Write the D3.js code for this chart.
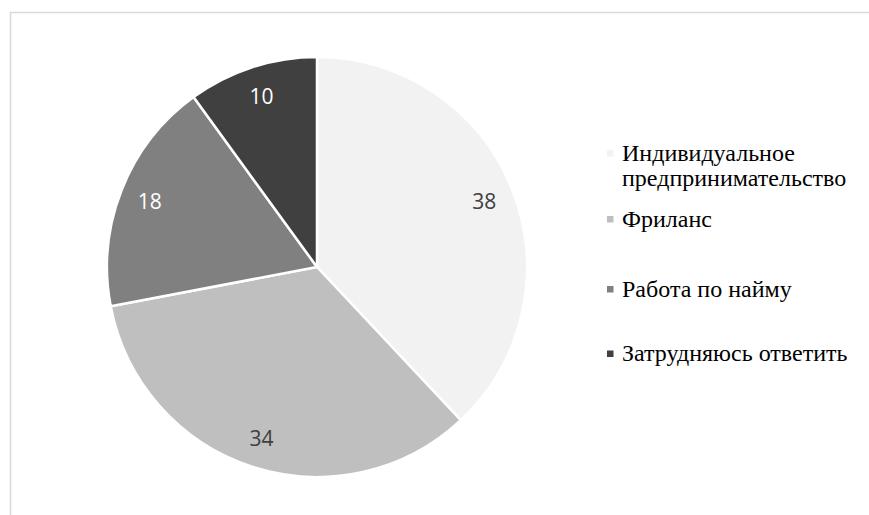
<!DOCTYPE html>
<html>
<head>
<meta charset="utf-8">
<script src="https://cdn.jsdelivr.net/npm/d3@7/dist/d3.min.js"></script>
<style>
  html, body { margin: 0; padding: 0; background: #ffffff; }
  svg { display: block; }
  .legend text { font-family: "Liberation Serif", "Times New Roman", serif; font-size: 24px; fill: #000; }
  .val { font-family: "Open Sans", "Liberation Sans", sans-serif; font-size: 21px; }
</style>
</head>
<body>
<script>
// Employment preference shares (percent)
const categories = ["Индивидуальное предпринимательство", "Фриланс", "Работа по найму", "Затрудняюсь ответить"];
const legendLines = [["Индивидуальное", "предпринимательство"], ["Фриланс"], ["Работа по найму"], ["Затрудняюсь ответить"]];
const values = [38, 34, 18, 10];
const colors = ["#f2f2f2", "#bfbfbf", "#808080", "#404040"];
const labelColors = ["#404040", "#404040", "#ffffff", "#ffffff"];

const W = 869, H = 515;
const svg = d3.select("body").append("svg").attr("width", W).attr("height", H);

// chart frame (runs off the right and bottom edges)
svg.append("rect")
  .attr("x", 10.5).attr("y", 12.5)
  .attr("width", W + 20).attr("height", H + 20)
  .attr("fill", "none").attr("stroke", "#d9d9d9").attr("stroke-width", 1.5);

const cx = 317, cy = 267, R = 210, labelR = 180;

const pie = d3.pie().value(d => d).sort(null);
const arcs = pie(values);
const arc = d3.arc().innerRadius(0).outerRadius(R);
const labelArc = d3.arc().innerRadius(labelR).outerRadius(labelR);

const g = svg.append("g").attr("transform", `translate(${cx},${cy})`);

g.selectAll("path.slice")
  .data(arcs)
  .join("path")
  .attr("class", "slice")
  .attr("d", arc)
  .attr("fill", (d, i) => colors[i])
  .attr("stroke", "#ffffff")
  .attr("stroke-width", 2.5)
  .attr("stroke-linejoin", "round");

g.selectAll("text.val")
  .data(arcs)
  .join("text")
  .attr("class", "val")
  .attr("transform", d => `translate(${labelArc.centroid(d)})`)
  .attr("text-anchor", "middle")
  .attr("dominant-baseline", "central")
  .attr("fill", (d, i) => labelColors[i])
  .text(d => d.data);

// legend
const legendY = [160.5, 226.5, 296.5, 361];
const legend = svg.append("g").attr("class", "legend");
legendLines.forEach((lines, i) => {
  const item = legend.append("g");
  item.append("rect")
    .attr("x", 607).attr("y", legendY[i] - 10.5)
    .attr("width", 6.5).attr("height", 6.5)
    .attr("fill", colors[i]);
  const t = item.append("text")
    .attr("x", 622).attr("y", legendY[i]);
  lines.forEach((ln, j) => {
    t.append("tspan").attr("x", 622).attr("dy", j === 0 ? 0 : 25).text(ln);
  });
});
</script>
</body>
</html>
